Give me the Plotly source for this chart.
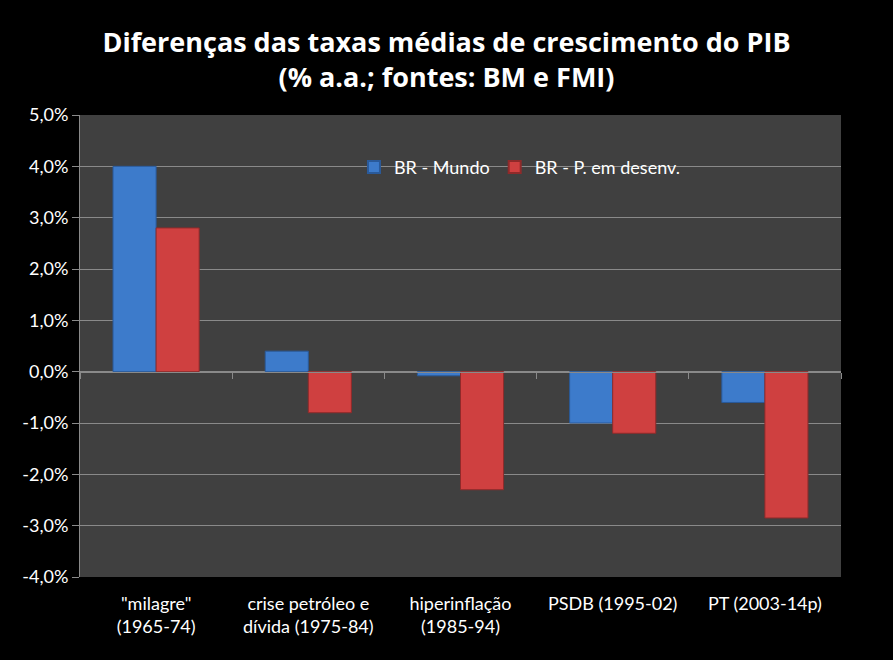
import plotly.graph_objects as go

categories = ['"milagre"<br>(1965-74)', 'crise petróleo e<br>dívida (1975-84)',
              'hiperinflação<br>(1985-94)', 'PSDB (1995-02)', 'PT (2003-14p)']
br_mundo = [0.040, 0.004, -0.0008, -0.010, -0.006]
br_desenv = [0.028, -0.008, -0.023, -0.012, -0.0285]
series_names = ["BR - Mundo", "BR - P. em desenv."]
y_ticks = [-0.04, -0.03, -0.02, -0.01, 0.0, 0.01, 0.02, 0.03, 0.04, 0.05]
y_ticktext = [f"{v * 100:.1f}%".replace(".", ",") for v in y_ticks]

FONT = "Lato, Calibri, 'Open Sans', sans-serif"
TFONT = "'Open Sans', Lato, sans-serif"
GRID = "#8a8a8a"

fig = go.Figure()
fig.add_trace(go.Bar(x=categories, y=br_mundo, name=series_names[0],
                     marker=dict(color="#3d7bcb", line=dict(color="#2a5a9a", width=1))))
fig.add_trace(go.Bar(x=categories, y=br_desenv, name=series_names[1],
                     marker=dict(color="#cf4040", line=dict(color="#8f2a2a", width=1))))
# invisible helper trace so the category axis drawn at zero gets its boundary ticks
fig.add_trace(go.Scatter(x=categories, y=[0] * len(categories), xaxis="x2", mode="markers",
                         marker=dict(opacity=0), showlegend=False, hoverinfo="skip"))

fig.update_layout(
    width=893, height=660,
    paper_bgcolor="black", plot_bgcolor="#404040",
    margin=dict(l=80, r=52, t=115, b=83),
    font=dict(family=FONT, color="white", size=18),
    title=dict(text="<b>Diferenças das taxas médias de crescimento do PIB<br>(% a.a.; fontes: BM e FMI)</b>",
               x=0.5, xanchor="center", y=1 - 52 / 660, yanchor="middle", yref="container",
               font=dict(family=TFONT, size=27, color="white")),
    barmode="group", bargap=0.434, bargroupgap=0,
    legend=dict(orientation="h", x=0.36, xanchor="left", y=0.887, yanchor="middle",
                bgcolor="rgba(0,0,0,0)", font=dict(size=18, color="white"),
                itemsizing="constant"),
    xaxis=dict(showgrid=False, ticks="", showline=False, zeroline=False,
               tickfont=dict(size=18, color="white"), ticklabelstandoff=14),
    xaxis2=dict(overlaying="x", anchor="free", position=4 / 9, side="bottom",
                showticklabels=False, ticks="outside", ticklen=6, tickcolor=GRID,
                tickson="boundaries", showline=True, linecolor=GRID, linewidth=1,
                showgrid=False, zeroline=False, matches="x"),
    yaxis=dict(range=[-0.04, 0.05], tickvals=y_ticks, ticktext=y_ticktext,
               showgrid=True, gridcolor=GRID, gridwidth=1, zeroline=False,
               showline=True, linecolor=GRID, linewidth=1, ticks="outside",
               ticklen=7, tickcolor=GRID, tickfont=dict(size=18, color="white")),
)

fig.write_html("out.html", config={"displayModeBar": False},
               post_script="document.body.style.margin='0';document.body.style.background='black';")
